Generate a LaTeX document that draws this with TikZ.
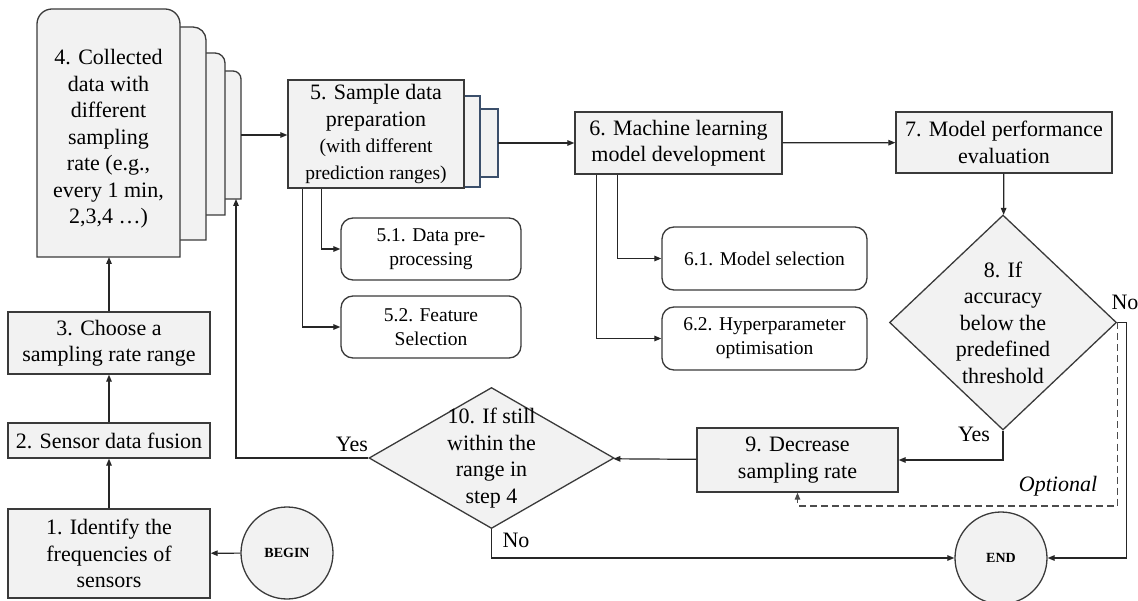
\documentclass[tikz,border=0pt]{standalone}
\usepackage{fontspec}
\setmainfont{Liberation Serif}
\usepackage{tikz}
\usetikzlibrary{positioning,shapes.geometric,arrows.meta,calc}

\definecolor{boxgray}{HTML}{F2F2F2}
\definecolor{edgegray}{HTML}{3A3A3A}
\definecolor{sheetblue}{HTML}{3B4F6B}
\newcommand{\stepfont}{\fontsize{22}{26.5}\selectfont}
\newcommand{\substepfont}{\fontsize{19.5}{24}\selectfont}
\newcommand{\termfont}{\fontsize{14}{16}\selectfont\bfseries}

\tikzset{
  stepbox/.style={draw=edgegray, fill=boxgray, line width=1.3pt, align=center, inner sep=2pt},
  subbox/.style={draw=edgegray, fill=white, line width=1.3pt, rounded corners=12pt, align=center,
    font=\substepfont, minimum width=180pt, minimum height=62pt},
  sheet/.style={draw=edgegray, fill=boxgray, line width=1.3pt},
  bluesheet/.style={draw=sheetblue, fill=boxgray, line width=1.3pt},
  decision/.style={diamond, draw=edgegray, fill=boxgray, line width=1.3pt, inner sep=0pt},
  terminal/.style={circle, draw=edgegray, fill=boxgray, line width=1.3pt, minimum size=92pt, font=\termfont},
  flow/.style={draw=black!85, line width=1.2pt, -{Triangle[length=7pt,width=5.5pt]}},
  optflow/.style={flow, draw=black!70, dash pattern=on 7pt off 4pt},
  lbl/.style={font=\stepfont, inner sep=1pt}
}

\begin{document}
\begin{tikzpicture}[x=1pt, y=-1pt, font=\stepfont]
  \useasboundingbox (0,0) rectangle (1138,601);

  % Left column
  \node[stepbox, minimum width=202pt, minimum height=89pt] (n1) at (109,553.5) {1. Identify the\\frequencies of\\sensors};
  \node[stepbox, minimum width=202pt, minimum height=35pt] (n2) at (109,440.5) {2. Sensor data fusion};
  \node[stepbox, minimum width=202pt, minimum height=62pt] (n3) at (109,343) {3. Choose a\\sampling rate range};
  \node[terminal] (begin) at (287,553) {BEGIN};

  % Stacked sheets of step 4
  \foreach \xa/\xb/\yt/\yb/\r in {215/241/71/199/8, 190/225/53/215/10, 160/206/27/240/13} {
    \draw[sheet] (\xa,\yb) -- (\xa,\yt) -- (\xb-\r,\yt) arc[start angle=90, end angle=0, radius=\r pt] -- (\xb,\yb) -- cycle;
  }
  \draw[sheet] (37,257) -- (37,24) arc[start angle=180, end angle=90, radius=15pt]
    -- (165,9) arc[start angle=90, end angle=0, radius=15pt] -- (180,257) -- cycle;
  \node[align=center, minimum width=143pt, minimum height=236pt, inner sep=0pt] (n4) at (108.5,139)
    {4. Collected\\data with\\different\\sampling\\rate (e.g.,\\every 1 min,\\2,3,4 …)};
  \coordinate (s4out) at (241,135);
  \coordinate (s4in) at (236,199);

  % Step 5 and its sheets
  \foreach \xa/\xb/\yt/\yb in {470/498/109/177, 440/480/96/187} {
    \draw[bluesheet] (\xa,\yt) rectangle (\xb,\yb);
  }
  \node[stepbox, minimum width=176pt, minimum height=108pt] (n5) at (376,134)
    {5. Sample data\\preparation\\\substepfont(with different\\\substepfont prediction ranges)};
  \coordinate (s5out) at (498,143);
  \node[subbox] (n51) at (431,249) {5.1. Data pre-\\processing};
  \node[subbox] (n52) at (431,327) {5.2. Feature\\Selection};

  % Step 6
  \node[stepbox, minimum width=207pt, minimum height=62pt] (n6) at (678.5,143) {6. Machine learning\\model development};
  \node[subbox, minimum width=205pt, minimum height=63pt] (n61) at (764.5,258.5) {6.1. Model selection};
  \node[subbox, minimum width=205pt, minimum height=63pt] (n62) at (764.5,338.5) {6.2. Hyperparameter\\optimisation};

  % Right part
  \node[stepbox, minimum width=216pt, minimum height=61pt] (n7) at (1004,142.5) {7. Model performance\\evaluation};
  \node[decision, minimum width=227pt, minimum height=215pt,
    label={[align=center]center:8. If\\accuracy\\below the\\predefined\\threshold}] (d8) at (1003,322.5) {};
  \node[stepbox, minimum width=201pt, minimum height=64pt] (n9) at (797.5,460) {9. Decrease\\sampling rate};
  \node[decision, minimum width=245pt, minimum height=141pt,
    label={[align=center]center:10. If still\\within the\\range in\\step 4}] (d10) at (491.5,458) {};
  \node[terminal] (end) at (1001,558) {END};

  % Connectors
  \draw[flow] (begin) -- (n1);
  \draw[flow] (n1) -- (n2);
  \draw[flow] (n2) -- (n3);
  \draw[flow] (n3.north) -- (n3.north |- 0,257);
  \draw[flow] (s4out) -- (s4out -| n5.west);
  \draw[flow] ([xshift=34pt]n5.south west) |- (n51.west);
  \draw[flow] ([xshift=15pt]n5.south west) |- (n52.west);
  \draw[flow] (s5out) -- (s5out -| n6.west);
  \draw[flow] ([xshift=43pt]n6.south west) |- (n61.west);
  \draw[flow] ([xshift=22pt]n6.south west) |- (n62.west);
  \draw[flow] (n6) -- (n7);
  \draw[flow] (n7) -- (d8);
  \draw[flow] (d8.south) |- (n9.east);
  \draw[flow] (d8.east) -- ++(9,0) |- (end.east);
  \draw[optflow] (d8.east) -- (d8.east |- 0,506) -| (n9.south);
  \draw[flow] (n9) -- (d10);
  \draw[flow] (d10.west) -| (s4in);
  \draw[flow] (d10.south) |- (end.west);

  % Branch labels
  \node[lbl] (yes10) at (352,444) {Yes};
  \node[lbl] (no10) at (516,540) {No};
  \node[lbl] (yes8) at (974,434) {Yes};
  \node[lbl] (no8) at (1125,302) {No};
  \node[lbl, font=\stepfont\itshape] (optional) at (1058,486) {Optional};
\end{tikzpicture}
\end{document}
